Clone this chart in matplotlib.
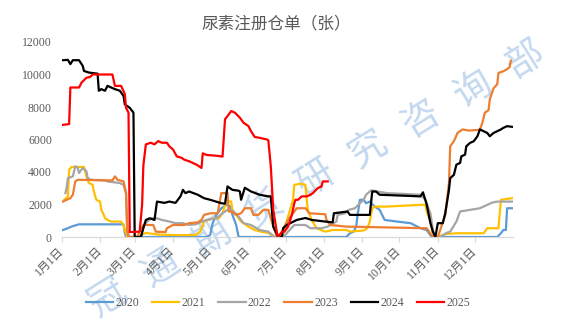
import pandas as pd
import matplotlib
matplotlib.use("Agg")
import matplotlib.pyplot as plt

# 尿素注册仓单（张），按月-日对齐到同一年度横轴
dates_2020 = ["01-02", "01-06", "01-09", "01-13", "01-15", "02-20", "02-21", "02-22", "04-28", "05-01",
              "05-03", "05-06", "05-10", "05-14", "05-17", "05-19", "05-22", "05-24", "08-19", "08-22",
              "08-25", "08-27", "08-28", "08-30", "09-02", "09-04", "09-07", "09-11", "09-15", "09-19",
              "09-29", "10-10", "10-18", "10-23", "10-27", "12-19", "12-22", "12-24", "12-26", "12-27",
              "12-31"]
vals_2020 = [430, 540, 640, 740, 780, 780, 250, 0, 0, 120,
             850, 1360, 1770, 1980, 1900, 1360, 740, 0, 0, 230,
             330, 640, 1260, 2290, 2290, 2080, 2180, 1870, 1670, 1050,
             950, 850, 540, 430, 0, 0, 230, 430, 430, 1770,
             1770]

dates_2021 = ["01-03", "01-06", "01-07", "01-09", "01-19", "01-21", "01-23", "01-26", "01-27", "01-29",
              "02-01", "02-02", "02-04", "02-05", "02-07", "02-10", "02-18", "02-20", "02-21", "02-23",
              "03-03", "03-06", "03-10", "03-20", "04-01", "04-19", "04-23", "04-26", "04-29", "05-04",
              "05-08", "05-11", "05-14", "05-18", "05-19", "05-22", "05-26", "06-01", "06-06", "06-11",
              "06-17", "06-22", "06-28", "07-03", "07-07", "07-08", "07-13", "07-17", "07-18", "07-19",
              "07-22", "07-26", "08-02", "08-08", "08-19", "08-22", "09-02", "09-05", "09-07", "09-09",
              "09-11", "09-20", "10-18", "10-22", "10-23", "10-26", "10-28", "10-31", "11-08", "11-16",
              "12-08", "12-11", "12-20", "12-22", "12-31"]
vals_2021 = [2290, 2500, 4140, 4310, 4310, 3730, 3320, 3210, 2800, 2290,
             2180, 1670, 1360, 1150, 1050, 950, 950, 740, 430, 0,
             0, 120, 250, 150, 120, 120, 330, 950, 1050, 1150,
             1150, 1460, 2200, 2180, 1670, 1360, 950, 640, 430, 330,
             250, 0, 0, 1260, 2290, 3210, 3280, 3210, 2290, 1670,
             1050, 540, 330, 430, 430, 330, 400, 540, 950, 1770,
             1870, 1870, 1980, 1980, 1570, 950, 230, 0, 190, 230,
             230, 540, 540, 2290, 2390]

dates_2022 = ["01-04", "01-05", "01-06", "01-10", "01-12", "01-14", "01-15", "01-18", "01-21", "01-22",
              "01-25", "02-05", "02-07", "02-17", "02-20", "02-22", "02-23", "02-25", "03-06", "03-08",
              "03-10", "03-14", "03-19", "03-23", "03-29", "04-03", "04-09", "04-14", "04-19", "04-28",
              "05-06", "05-11", "05-15", "05-19", "05-23", "05-25", "05-28", "06-03", "06-10", "06-17",
              "06-22", "06-29", "07-03", "07-08", "07-17", "07-21", "07-30", "08-04", "08-11", "08-12",
              "08-18", "08-21", "08-26", "08-30", "09-02", "09-04", "09-08", "09-21", "10-18", "10-22",
              "10-26", "10-28", "10-30", "11-03", "11-08", "11-11", "11-16", "11-19", "11-27", "12-05",
              "12-11", "12-15", "12-19", "12-31"]
vals_2022 = [2700, 3030, 3620, 3730, 4350, 4250, 3940, 4250, 4040, 3620,
             3520, 3480, 3420, 3320, 3200, 2700, 250, 0, 0, 600,
             860, 1150, 1150, 1050, 950, 850, 850, 740, 780, 1050,
             1150, 1460, 1670, 1620, 1360, 1150, 850, 740, 430, 330,
             0, 0, 330, 740, 740, 540, 540, 640, 950, 1360,
             1460, 1670, 1770, 2080, 2290, 2600, 2870, 2700, 2600, 2290,
             1460, 430, 0, 0, 250, 330, 950, 1570, 1670, 1770,
             1980, 2120, 2180, 2180]

dates_2023 = ["01-02", "01-05", "01-08", "01-10", "01-12", "01-14", "02-11", "02-13", "02-14", "02-15",
              "02-20", "02-22", "02-23", "02-24", "03-03", "03-05", "03-08", "03-16", "03-18", "03-26",
              "03-27", "04-01", "04-10", "04-14", "04-21", "04-24", "04-26", "05-01", "05-07", "05-10",
              "05-15", "05-16", "05-18", "05-22", "05-26", "05-29", "06-03", "06-05", "06-09", "06-13",
              "06-17", "06-21", "06-24", "06-28", "06-30", "07-03", "07-06", "07-10", "07-17", "07-20",
              "08-02", "08-03", "08-06", "08-19", "10-23", "10-28", "11-01", "11-07", "11-10", "11-11",
              "11-14", "11-17", "11-21", "11-26", "12-05", "12-07", "12-09", "12-12", "12-13", "12-16",
              "12-19", "12-20", "12-24", "12-27", "12-29", "12-30"]
vals_2023 = [2180, 2290, 2390, 2600, 3420, 3520, 3480, 3730, 3650, 3520,
             3420, 2700, 430, 0, 0, 330, 740, 740, 330, 300,
             540, 740, 740, 850, 900, 1050, 1360, 1460, 1460, 2700,
             2700, 1570, 1570, 1360, 1460, 1770, 1770, 1360, 1360, 1670,
             1670, 640, 0, 250, 640, 1050, 1360, 1770, 1770, 1460,
             1400, 1050, 740, 640, 540, 0, 0, 1360, 3320, 5580,
             5900, 6410, 6620, 6550, 6600, 7030, 7650, 7800, 8470, 9150,
             9400, 10100, 10200, 10330, 10450, 10850]

dates_2024 = ["01-02", "01-06", "01-08", "01-10", "01-15", "01-18", "01-19", "01-23", "01-30", "01-31",
              "02-02", "02-05", "02-07", "02-13", "02-17", "02-20", "02-21", "02-25", "02-28", "03-01",
              "03-06", "03-08", "03-10", "03-13", "03-17", "03-19", "03-25", "03-29", "04-03", "04-07",
              "04-09", "04-11", "04-14", "04-21", "04-26", "05-01", "05-10", "05-13", "05-15", "05-19",
              "05-24", "05-25", "05-26", "05-29", "06-03", "06-10", "06-17", "06-19", "06-21", "06-25",
              "06-28", "06-29", "07-02", "07-05", "07-10", "07-17", "07-22", "08-02", "08-08", "08-09",
              "08-20", "08-22", "09-07", "09-09", "09-12", "09-15", "10-18", "10-20", "10-23", "10-26",
              "10-28", "10-30", "10-31", "11-01", "11-05", "11-07", "11-10", "11-11", "11-14", "11-16",
              "11-19", "11-20", "11-23", "11-24", "11-27", "11-30", "12-03", "12-05", "12-08", "12-11",
              "12-13", "12-16", "12-19", "12-22", "12-24", "12-27", "12-31"]
vals_2024 = [10880, 10900, 10640, 10880, 10880, 10530, 10220, 10120, 10050, 9000,
             9100, 9000, 9300, 9100, 9000, 8680, 8160, 7950, 7650, 0,
             0, 550, 1050, 1150, 1050, 2180, 2100, 2180, 2100, 2500,
             2900, 2700, 2800, 2600, 2390, 2290, 2080, 2050, 3110, 2900,
             2850, 2800, 2290, 3030, 2800, 2600, 2500, 2500, 640, 0,
             0, 550, 740, 860, 1050, 1170, 1050, 950, 900, 1460,
             1570, 1360, 1360, 2800, 2800, 2600, 2500, 2750, 2000, 860,
             330, 0, 430, 850, 850, 1460, 2900, 3620, 3830, 4450,
             4560, 4960, 5070, 5580, 5790, 5890, 6200, 6620, 6510, 6400,
             6200, 6400, 6510, 6620, 6720, 6820, 6780]

dates_2025 = ["01-02", "01-07", "01-08", "01-15", "01-17", "01-21", "01-24", "01-26", "02-11", "02-13",
              "02-18", "02-21", "02-22", "02-24", "02-25", "03-05", "03-07", "03-08", "03-10", "03-14",
              "03-17", "03-20", "03-23", "03-27", "03-29", "04-01", "04-04", "04-08", "04-10", "04-14",
              "04-20", "04-24", "04-25", "04-28", "05-06", "05-11", "05-13", "05-15", "05-18", "05-21",
              "05-25", "05-28", "06-01", "06-03", "06-06", "06-10", "06-16", "06-17", "06-19", "06-21",
              "06-24", "06-25", "06-28", "06-30", "07-03", "07-06", "07-08", "07-09", "07-11", "07-14",
              "07-18", "07-21", "07-23", "07-27", "07-30", "07-31", "08-04"]
vals_2025 = [6900, 6950, 9200, 9200, 9500, 9800, 9850, 10000, 10000, 9300,
             9300, 8800, 7950, 7650, 300, 330, 2000, 4400, 5700, 5800,
             5700, 5900, 5800, 5800, 5580, 5380, 4960, 4870, 4760, 4660,
             4450, 4250, 5150, 5050, 5000, 4950, 7240, 7440, 7750, 7650,
             7340, 7030, 6820, 6510, 6160, 6100, 6000, 5950, 4350, 1670,
             250, 0, 330, 330, 640, 1360, 2080, 2290, 2290, 2500,
             2500, 2600, 2700, 3010, 3110, 3420, 3420]

years = ["2020", "2021", "2022", "2023", "2024", "2025"]
colors = ["#5B9BD5", "#FFC000", "#A5A5A5", "#ED7D31", "#000000", "#FF0000"]
month_starts = ["01-01", "02-01", "03-01", "04-01", "05-01", "06-01",
                "07-01", "08-01", "09-01", "10-01", "11-01", "12-01"]
month_labels = [f"{m}月1日" for m in range(1, 13)]
yticks = [0, 2000, 4000, 6000, 8000, 10000, 12000]


def to_day(md_list):
    d = pd.to_datetime(["2021-" + s for s in md_list])
    return d.dayofyear.values - 1


series = [(dates_2020, vals_2020), (dates_2021, vals_2021), (dates_2022, vals_2022),
          (dates_2023, vals_2023), (dates_2024, vals_2024), (dates_2025, vals_2025)]

label_font = ["Liberation Serif", "Noto Sans CJK SC"]
grey = "#595959"

fig = plt.figure(figsize=(5.8, 3.3), dpi=100)
ax = fig.add_axes([61.7 / 580, 1 - 237 / 330, (513.3 - 61.7) / 580, (237 - 42) / 330])
ax.set_facecolor("none")

for (d, v), yr, c in zip(series, years, colors):
    ax.plot(to_day(d), v, color=c, lw=1.6, label=yr, solid_joinstyle="round")

ax.set_xlim(0, 365)
ax.set_ylim(0, 12000)
ax.set_yticks(yticks)
ax.set_yticklabels([str(t) for t in yticks], family=label_font, fontsize=8.5, color=grey)
ax.set_xticks(to_day(month_starts))
ax.set_xticklabels(month_labels, family=label_font, fontsize=8.5, color=grey,
                   rotation=45, ha="right", va="center", rotation_mode="anchor")
ax.tick_params(axis="y", length=0, pad=7)
ax.tick_params(axis="x", length=3.5, color="#D9D9D9", width=0.8, pad=5)
for side in ["top", "right", "left"]:
    ax.spines[side].set_visible(False)
ax.spines["bottom"].set_color("#D9D9D9")
ax.spines["bottom"].set_linewidth(0.8)

fig.text(276 / 580, 1 - 24 / 330, "尿素注册仓单（张）", ha="center", va="center",
         fontsize=12, color=grey, family=["Noto Sans CJK SC"])

fig.legend(loc="center", bbox_to_anchor=(278 / 580, 1 - 302.7 / 330), ncol=6, frameon=False,
           handlelength=2.3, handletextpad=0.2, columnspacing=1.1,
           prop={"family": label_font, "size": 8.5}, labelcolor=grey)

# 斜向水印
mark = "冠通期货研究咨询部"
for i, ch in enumerate(mark):
    fig.text((108 + 52.1 * i) / 580, 1 - (298 - 29.75 * i) / 330, ch, rotation=32,
             ha="center", va="center", fontsize=27, color="#A9C8E8", alpha=0.7,
             family=["Noto Sans CJK SC"], fontweight="light", zorder=-1)

fig.savefig("out.png", dpi=100)
